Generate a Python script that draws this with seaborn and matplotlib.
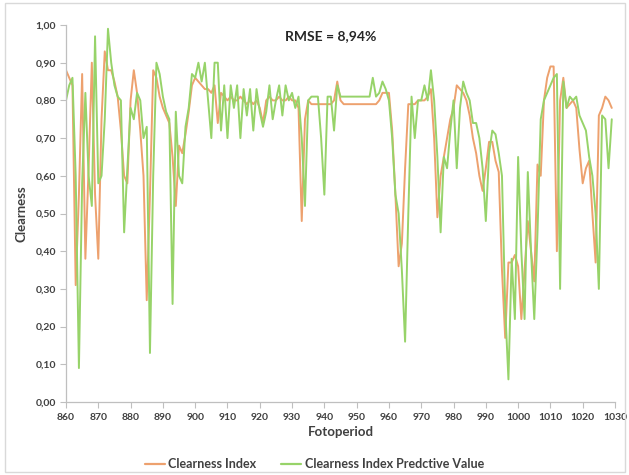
import numpy as np
import pandas as pd
import matplotlib
matplotlib.use("Agg")
import matplotlib.pyplot as plt
import seaborn as sns
from matplotlib.patches import Rectangle
from matplotlib.lines import Line2D

# ---- data -------------------------------------------------------------
fotoperiod = list(range(860, 1030))

clearness_index = [
    0.88, 0.86, 0.84, 0.31, 0.55, 0.87, 0.38, 0.62, 0.90, 0.55,   # 860-869
    0.38, 0.75, 0.93, 0.88, 0.88, 0.85, 0.81, 0.72, 0.60, 0.58,   # 870-879
    0.80, 0.88, 0.82, 0.72, 0.60, 0.27, 0.55, 0.88, 0.86, 0.81,   # 880-889
    0.78, 0.76, 0.74, 0.65, 0.52, 0.68, 0.66, 0.71, 0.77, 0.84,   # 890-899
    0.86, 0.85, 0.84, 0.83, 0.83, 0.82, 0.84, 0.74, 0.82, 0.81,   # 900-909
    0.80, 0.81, 0.80, 0.80, 0.81, 0.80, 0.79, 0.80, 0.79, 0.80,   # 910-919
    0.78, 0.74, 0.80, 0.81, 0.80, 0.80, 0.81, 0.80, 0.80, 0.81,   # 920-929
    0.80, 0.80, 0.78, 0.48, 0.75, 0.80, 0.79, 0.79, 0.79, 0.79,   # 930-939
    0.79, 0.79, 0.79, 0.80, 0.85, 0.80, 0.79, 0.79, 0.79, 0.79,   # 940-949
    0.79, 0.79, 0.79, 0.79, 0.79, 0.79, 0.79, 0.80, 0.82, 0.82,   # 950-959
    0.82, 0.72, 0.55, 0.36, 0.42, 0.62, 0.79, 0.79, 0.79, 0.80,   # 960-969
    0.80, 0.80, 0.81, 0.83, 0.70, 0.49, 0.60, 0.65, 0.70, 0.75,   # 970-979
    0.78, 0.84, 0.83, 0.82, 0.80, 0.76, 0.70, 0.66, 0.60, 0.56,   # 980-989
    0.62, 0.69, 0.69, 0.64, 0.61, 0.35, 0.17, 0.37, 0.37, 0.39,   # 990-999
    0.36, 0.22, 0.35, 0.48, 0.40, 0.32, 0.63, 0.60, 0.80, 0.86,   # 1000-1009
    0.89, 0.89, 0.40, 0.80, 0.86, 0.78, 0.79, 0.80, 0.78, 0.67,   # 1010-1019
    0.58, 0.62, 0.64, 0.50, 0.37, 0.76, 0.78, 0.81, 0.80, 0.78,   # 1020-1029
]

predictive_value = [
    0.80, 0.84, 0.86, 0.60, 0.09, 0.58, 0.82, 0.60, 0.52, 0.97,   # 860-869
    0.58, 0.60, 0.75, 0.99, 0.90, 0.84, 0.81, 0.80, 0.45, 0.62,   # 870-879
    0.78, 0.75, 0.82, 0.80, 0.70, 0.73, 0.13, 0.60, 0.90, 0.87,   # 880-889
    0.81, 0.77, 0.75, 0.26, 0.77, 0.60, 0.58, 0.73, 0.78, 0.87,   # 890-899
    0.86, 0.90, 0.85, 0.90, 0.80, 0.70, 0.90, 0.90, 0.72, 0.84,   # 900-909
    0.70, 0.84, 0.78, 0.84, 0.70, 0.83, 0.76, 0.83, 0.72, 0.83,   # 910-919
    0.77, 0.73, 0.77, 0.84, 0.75, 0.80, 0.84, 0.76, 0.84, 0.80,   # 920-929
    0.82, 0.78, 0.81, 0.70, 0.52, 0.80, 0.81, 0.81, 0.81, 0.70,   # 930-939
    0.55, 0.81, 0.81, 0.72, 0.84, 0.81, 0.81, 0.81, 0.81, 0.81,   # 940-949
    0.81, 0.81, 0.81, 0.81, 0.81, 0.86, 0.81, 0.82, 0.85, 0.83,   # 950-959
    0.80, 0.70, 0.55, 0.50, 0.35, 0.16, 0.50, 0.81, 0.70, 0.80,   # 960-969
    0.80, 0.84, 0.80, 0.88, 0.80, 0.65, 0.45, 0.65, 0.62, 0.72,   # 970-979
    0.80, 0.62, 0.78, 0.85, 0.82, 0.80, 0.74, 0.74, 0.70, 0.62,   # 980-989
    0.48, 0.66, 0.72, 0.71, 0.66, 0.60, 0.25, 0.06, 0.38, 0.22,   # 990-999
    0.65, 0.40, 0.22, 0.61, 0.40, 0.22, 0.45, 0.75, 0.80, 0.82,   # 1000-1009
    0.84, 0.86, 0.87, 0.30, 0.85, 0.78, 0.81, 0.80, 0.81, 0.76,   # 1010-1019
    0.74, 0.72, 0.65, 0.60, 0.50, 0.30, 0.76, 0.75, 0.62, 0.75,   # 1020-1029
]

x_ticks = list(range(860, 1031, 10))
y_ticks = [0.0, 0.1, 0.2, 0.3, 0.4, 0.5, 0.6, 0.7, 0.8, 0.9, 1.0]

series_names = ["Clearness Index", "Clearness Index Predctive Value"]
series_colors = ["#EDA16E", "#97D369"]

# ---- figure -----------------------------------------------------------
sns.set_theme(style="white")
plt.rcParams["font.family"] = ["Lato", "DejaVu Sans"]

W, H = 629, 475
fig = plt.figure(figsize=(W / 100, H / 100), dpi=100)
fig.patch.set_facecolor("white")
ax = fig.add_axes([66 / W, 1 - 402 / H, (615 - 66) / W, (402 - 25) / H])

df = pd.DataFrame({
    "Fotoperiod": fotoperiod * 2,
    "Clearness": clearness_index + predictive_value,
    "Series": [series_names[0]] * len(fotoperiod) + [series_names[1]] * len(fotoperiod),
})

sns.lineplot(data=df, x="Fotoperiod", y="Clearness", hue="Series",
             palette=dict(zip(series_names, series_colors)),
             linewidth=1.4, ax=ax, legend=False)

ax.set_xlim(860, 1030)
ax.set_ylim(0, 1.0)
ax.set_xticks(x_ticks)
ax.set_yticks(y_ticks)
ax.set_xticklabels([str(t) for t in x_ticks], fontsize=7.5, fontweight="bold", color="#404040")
ax.set_yticklabels([f"{t:.2f}".replace(".", ",") for t in y_ticks],
                   fontsize=7.5, fontweight="bold", color="#404040")
ax.tick_params(axis="both", direction="out", length=4, width=0.8, color="#BFBFBF", pad=3)
ax.tick_params(axis="x", length=4, pad=4)
ax.tick_params(axis="both", bottom=True, left=True)

for side in ["top", "right"]:
    ax.spines[side].set_visible(False)
for side in ["left", "bottom"]:
    ax.spines[side].set_color("#BFBFBF")
    ax.spines[side].set_linewidth(0.9)

ax.set_xlabel("Fotoperiod", fontsize=9.5, fontweight="bold", color="#404040", labelpad=3)
ax.set_ylabel("Clearness", fontsize=9.5, fontweight="bold", color="#404040", labelpad=6)

ax.text(942, 0.97, "RMSE = 8,94%", ha="center", va="center",
        fontsize=10, fontweight="bold", color="#262626")

handles = [Line2D([0], [0], color=c, lw=1.6) for c in series_colors]
fig.legend(handles, series_names, loc="center", bbox_to_anchor=(0.5, 1 - 464 / H),
           ncol=2, frameon=False, handlelength=1.6, handletextpad=0.3,
           columnspacing=2.0, prop={"weight": "bold", "size": 9})
for t in fig.legends[0].get_texts():
    t.set_color("#404040")

fig.patches.append(Rectangle((5 / W, 3 / H), (W - 9) / W, (H - 6) / H,
                             transform=fig.transFigure, fill=False,
                             edgecolor="#D9D9D9", linewidth=1.0))

fig.savefig("out.png", dpi=100)
